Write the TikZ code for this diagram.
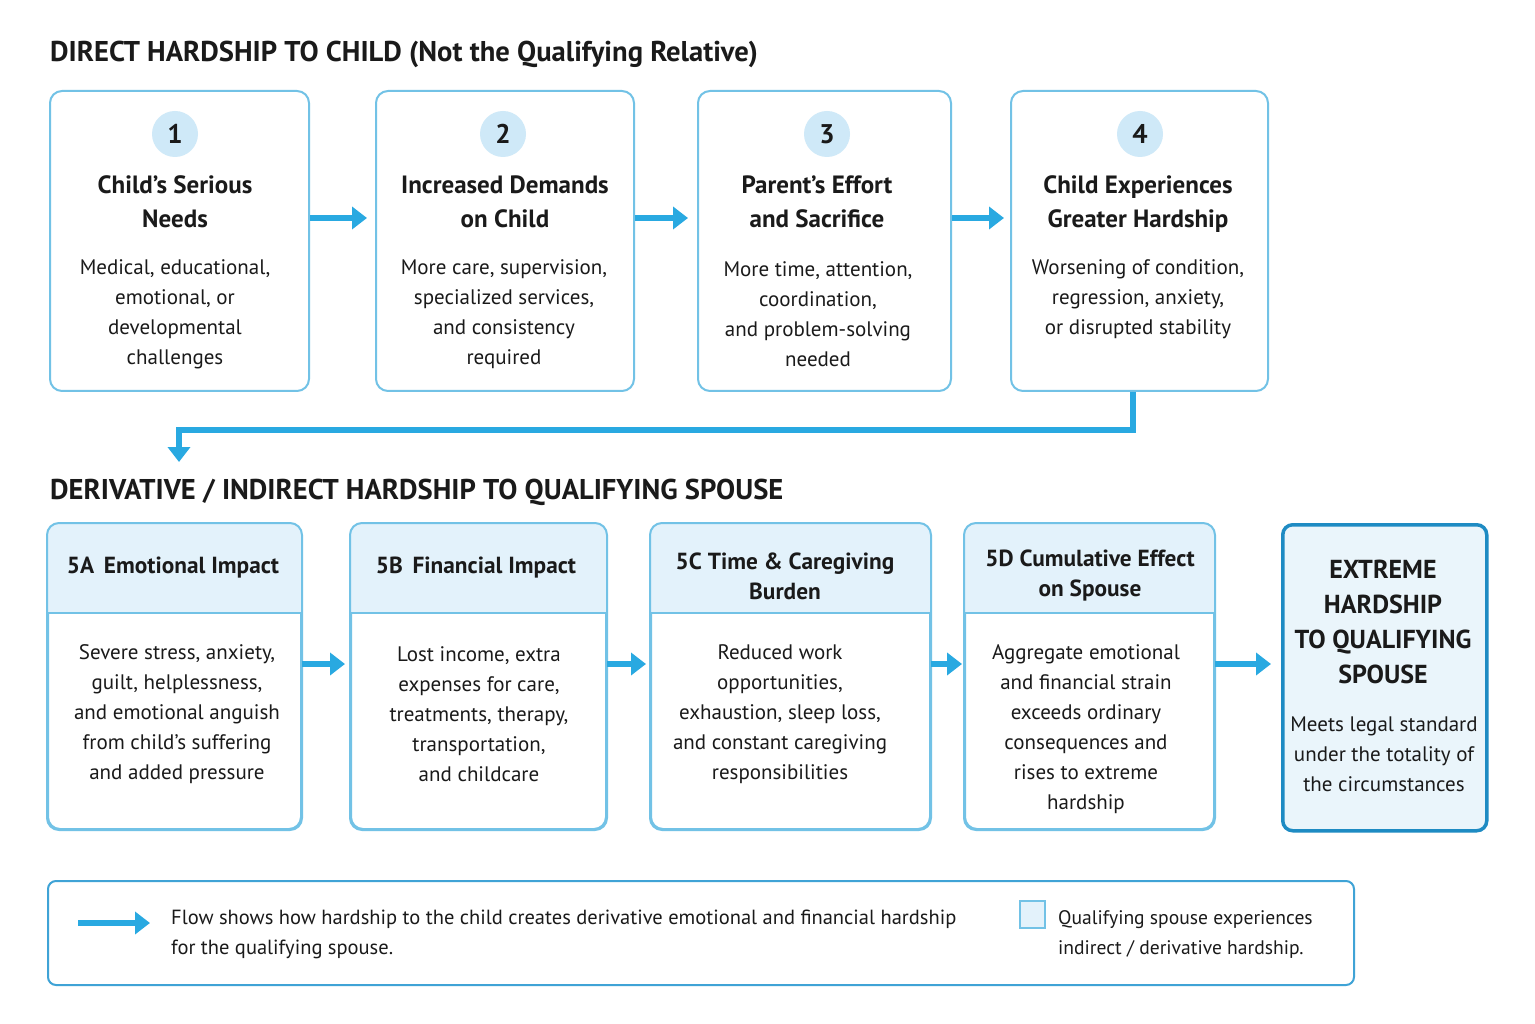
\documentclass[tikz,border=0pt]{standalone}
\usepackage{fontspec}
\setmainfont{PT Sans}
\usetikzlibrary{arrows.meta,calc}
\definecolor{flowblue}{HTML}{29A9E1}
\definecolor{boxline}{HTML}{72C2E6}
\definecolor{headfill}{HTML}{E3F2FB}
\definecolor{circfill}{HTML}{CFE9F8}
\definecolor{txt}{HTML}{1A1A1A}
\definecolor{darkline}{HTML}{1E8BC3}
\definecolor{exfill}{HTML}{EAF5FB}
\definecolor{legline}{HTML}{3FA3D6}
\newcommand\derivcard[3]{%
  \node[card, minimum width={(#3-#2)*1pt}, minimum height=305pt, anchor=north west] (#1) at (#2,523) {};
  \begin{scope}
    \clip[rounded corners=12pt] (#1.north west) rectangle (#1.south east);
    \fill[headfill] (#1.north west) rectangle ($(#1.north east)+(0,90)$);
  \end{scope}
  \draw[boxline, line width=2pt, rounded corners=12pt] (#1.north west) rectangle (#1.south east);
  \draw[boxline, line width=1.6pt] ($(#1.north west)+(0,90)$) -- ($(#1.north east)+(0,90)$);}
\begin{document}
\begin{tikzpicture}[x=1pt,y=-1pt,
  card/.style={draw=boxline, line width=2pt, rounded corners=12pt, fill=white, inner sep=0pt},
  flow/.style={draw=flowblue, line width=6pt, -{Triangle[length=15pt,width=22pt]}},
  sectitle/.style={anchor=west, inner sep=0pt, text=txt, font=\fontsize{28.6}{32}\selectfont\bfseries},
  numc/.style={circle, fill=circfill, minimum size=46pt, inner sep=0pt, text=txt, font=\fontsize{27}{32}\selectfont\bfseries},
  ctitle/.style={align=center, inner sep=0pt, text=txt, font=\fontsize{25}{34}\selectfont\bfseries},
  cbody/.style={align=center, inner sep=0pt, text=txt, font=\fontsize{21}{30}\selectfont},
  htitle/.style={align=center, inner sep=0pt, text=txt, font=\fontsize{23.3}{30}\selectfont\bfseries},
  extitle/.style={align=center, inner sep=0pt, text=txt, font=\fontsize{26}{35}\selectfont\bfseries},
  legtext/.style={anchor=west, align=left, inner sep=0pt, text=txt, font=\fontsize{20.5}{30}\selectfont}]
\useasboundingbox (0,0) rectangle (1535,1024);
\fill[white] (0,0) rectangle (1535,1024);

% ---------- section 1 ----------
\node[sectitle] (t1) at (50,54) {DIRECT HARDSHIP TO CHILD (Not the Qualifying Relative)};

\node[card, minimum width=259pt, minimum height=300pt, anchor=north west] (b1) at (49,90) {};
\node[card, minimum width=258pt, minimum height=300pt, anchor=north west] (b2) at (375,90) {};
\node[card, minimum width=253pt, minimum height=300pt, anchor=north west] (b3) at (697,90) {};
\node[card, minimum width=257pt, minimum height=300pt, anchor=north west] (b4) at (1010,90) {};

\node[numc] (n1) at (175,134) {1};
\node[numc] (n2) at (503,134) {2};
\node[numc] (n3) at (827,134) {3};
\node[numc] (n4) at (1140,134) {4};

\node[ctitle] (h1) at (175,202) {Child’s Serious\\Needs};
\node[ctitle] (h2) at (505,202) {Increased Demands\\on Child};
\node[ctitle] (h3) at (817,202) {Parent’s Effort\\and Sacrifice};
\node[ctitle] (h4) at (1138,204) {Child Experiences\\Greater Hardship};

\node[cbody] (d1) at (175,314) {Medical, educational,\\emotional, or\\developmental\\challenges};
\node[cbody] (d2) at (504,314) {More care, supervision,\\specialized services,\\and consistency\\required};
\node[cbody] (d3) at (818,314) {More time, attention,\\coordination,\\and problem-solving\\needed};
\node[cbody] (d4) at (1138,299) {Worsening of condition,\\regression, anxiety,\\or disrupted stability};

\coordinate (r1) at (0,218);
\draw[flow] (b1.east |- r1) -- ([xshift=-8pt]b2.west |- r1);
\draw[flow] (b2.east |- r1) -- ([xshift=-9pt]b3.west |- r1);
\draw[flow] (b3.east |- r1) -- ([xshift=-6pt]b4.west |- r1);

\coordinate (turn) at (1133,430);
\coordinate (drop) at (179,462);
\draw[flow] (b4.south -| turn) -- (turn) -| (drop);

% ---------- section 2 ----------
\node[sectitle] (t2) at (50,492) {DERIVATIVE / INDIRECT HARDSHIP TO QUALIFYING SPOUSE};

\derivcard{c1}{47}{300}
\derivcard{c2}{350}{605}
\derivcard{c3}{650}{929}
\derivcard{c4}{964}{1213}

\node[htitle] (g1) at (173,568) {5A\, Emotional Impact};
\node[htitle] (g2) at (476,568) {5B\, Financial Impact};
\node[htitle] (g3) at (785,576) {5C Time \& Caregiving\\Burden};
\node[htitle] (g4) at (1090,576) {5D Cumulative Effect\\on Spouse};

\node[cbody] (e1) at (177,714) {Severe stress, anxiety,\\guilt, helplessness,\\and emotional anguish\\from child’s suffering\\and added pressure};
\node[cbody] (e2) at (479,714) {Lost income, extra\\expenses for care,\\treatments, therapy,\\transportation,\\and childcare};
\node[cbody] (e3) at (780,714) {Reduced work\\opportunities,\\exhaustion, sleep loss,\\and constant caregiving\\responsibilities};
\node[cbody] (e4) at (1086,729) {Aggregate emotional\\and financial strain\\exceeds ordinary\\consequences and\\rises to extreme\\hardship};

\node[draw=darkline, line width=3.5pt, rounded corners=10pt, fill=exfill, minimum width=204pt, minimum height=306pt, anchor=north west, inner sep=0pt] (ex) at (1281,523) {};
\node[extitle] (x1) at (1383,622) {EXTREME\\HARDSHIP\\TO QUALIFYING\\SPOUSE};
\node[cbody] (x2) at (1384,754) {Meets legal standard\\under the totality of\\the circumstances};

\coordinate (r2) at (0,664);
\draw[flow] (c1.east |- r2) -- ([xshift=-5pt]c2.west |- r2);
\draw[flow] (c2.east |- r2) -- ([xshift=-4pt]c3.west |- r2);
\draw[flow] (c3.east |- r2) -- ([xshift=-2pt]c4.west |- r2);
\draw[flow] (c4.east |- r2) -- ([xshift=-10pt]ex.west |- r2);

% ---------- legend ----------
\node[draw=legline, line width=2pt, rounded corners=8pt, minimum width=1306pt, minimum height=104pt, anchor=north west, inner sep=0pt] (leg) at (47,880) {};
\coordinate (la) at (78,923);
\coordinate (lb) at (150,923);
\draw[flow] (la) -- (lb);
\node[legtext] (l1) at (171,934) {Flow shows how hardship to the child creates derivative emotional and financial hardship\\for the qualifying spouse.};
\node[draw=boxline, line width=1.6pt, fill=headfill, minimum width=25pt, minimum height=27pt, anchor=north west, inner sep=0pt] (lsq) at (1019,900) {};
\node[legtext, font=\fontsize{19.6}{30}\selectfont] (l2) at (1058,934) {Qualifying spouse experiences\\indirect / derivative hardship.};
\end{tikzpicture}
\end{document}
